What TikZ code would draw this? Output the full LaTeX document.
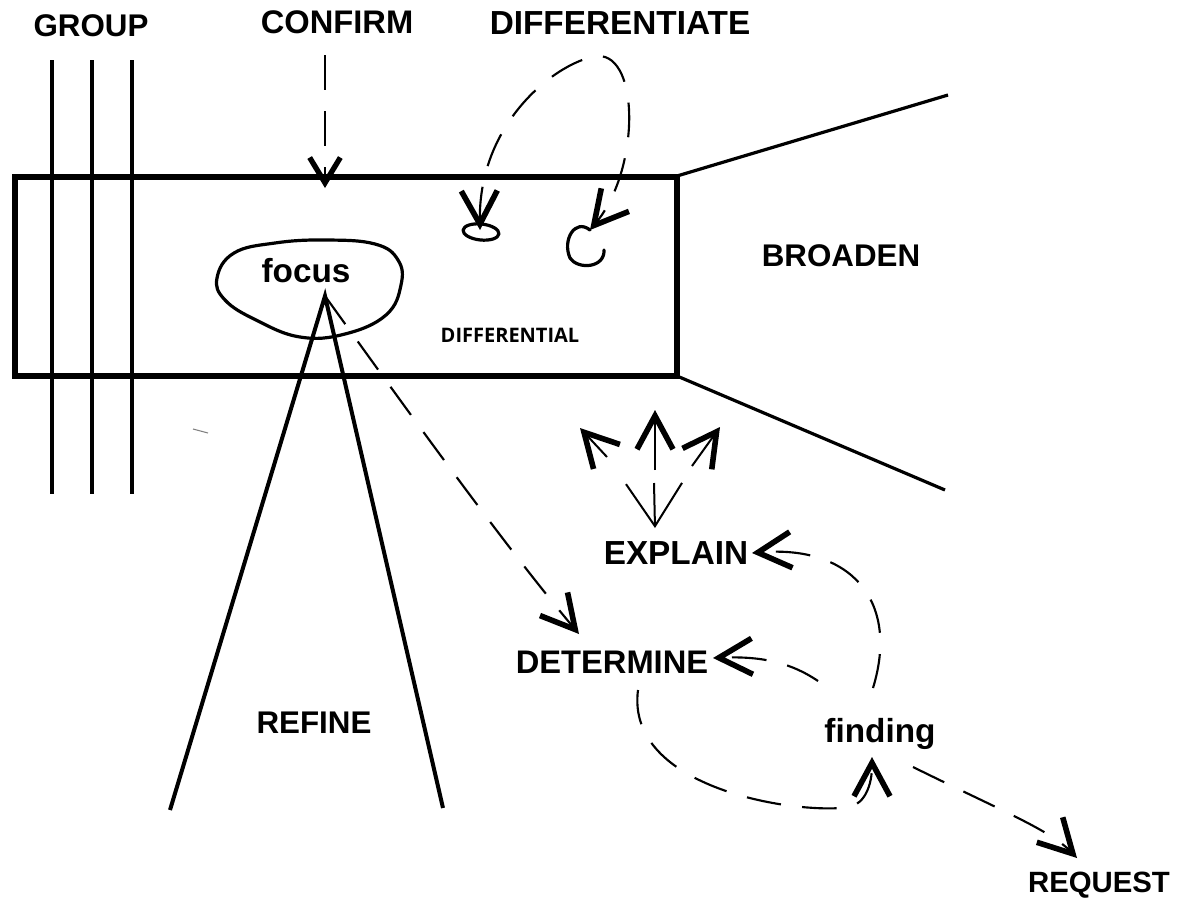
\documentclass[tikz,border=0pt]{standalone}
\usepackage{fontspec}
\usetikzlibrary{arrows.meta}
\newfontfamily\lab{Liberation Sans}
\newfontfamily\osans{Open Sans}
\begin{document}
\begin{tikzpicture}[x=0.75pt,y=-0.75pt,
  txt/.style={inner sep=0pt, font=\lab\bfseries\fontsize{#1}{#1}\selectfont},
  boxline/.style={line width=5pt},
  gline/.style={line width=2.3pt},
  wline/.style={line width=2.4pt},
  refl/.style={line width=3pt},
  sline/.style={line width=2.4pt, line join=round, line cap=round},
  dsh/.style={line width=1.6pt, dash pattern=on 26pt off 16pt},
  thinl/.style={line width=1.5pt},
  hd/.style={-{Straight Barb[length=25pt,width=27pt,line width=4.2pt]}},
  hds/.style={-{Straight Barb[length=19pt,width=23pt,line width=4pt]}},
  hdthin/.style={-{Straight Barb[length=32pt,width=42pt,line width=1.5pt]}},
  hdboth/.style={{Straight Barb[length=25pt,width=27pt,line width=4.2pt]}-{Straight Barb[length=25pt,width=27pt,line width=4.2pt]}}
]
\useasboundingbox (0,0) rectangle (1186,904);

% texts
\node[txt=23.5] (group) at (91,26) {GROUP};
\node[txt=24.5] (confirm) at (337,22) {CONFIRM};
\node[txt=25] (diffte) at (620,23) {DIFFERENTIATE};
\node[txt=23.5] (broaden) at (841,256) {BROADEN};
\node[txt=23.5] (refine) at (314,723) {REFINE};
\node[txt=22] (request) at (1099,885) {REQUEST};
\node[txt=25] (explain) at (676,553) {EXPLAIN};
\node[txt=24.5] (determine) at (612,662) {DETERMINE};
\node[txt=25, anchor=base] (finding) at (880,742) {finding};
\node[txt=25, anchor=base] (focus) at (306,282) {focus};
\node[inner sep=0pt, font=\osans\bfseries\fontsize{15}{15}\selectfont] (differential) at (510,335) {DIFFERENTIAL};

% group lines
\foreach \x in {52,92,132} \draw[gline] (\x,60) -- (\x,494);

% differential box
\coordinate (bx1) at (15,177);
\coordinate (bx2) at (677,376);
\draw[boxline] (bx1) rectangle (bx2);

% broaden lines
\coordinate (tr) at (677,176);
\coordinate (br) at (677,376);
\coordinate (bu) at (948,95);
\coordinate (bd) at (945,490);
\draw[wline] (tr) -- (bu);
\draw[wline] (br) -- (bd);

% focus ellipse
\draw[sline] plot[smooth cycle, tension=0.7] coordinates {(217,278) (234,253) (275,243) (325,240) (375,244) (398,260) (401,285) (386,315) (345,334) (300,337) (256,320) (225,300)};

% refine lines
\coordinate (apex) at (325,296);
\coordinate (rl) at (170,810);
\coordinate (rr) at (443,808);
\draw[refl] (rl) -- (apex) -- (rr);

% stray mark
\draw[line width=0.8pt, gray] (193,429) -- (208,433);

% confirm arrow
\coordinate (c0) at (325,55);
\coordinate (c1) at (325,188);
\draw[dsh, hds] (c0) -- (c1);

% differentiate loop
\coordinate (dl) at (480,230);
\coordinate (dp) at (598,56);
\coordinate (dr) at (590,230);
\draw[dsh, hdboth] (dl) .. controls (478,120) and (560,60) .. (dp) .. controls (640,55) and (640,170) .. (dr);
\draw[sline, rotate around={-6:(481,232)}] (481,232) ellipse (18 and 8);
\draw[sline] (dr) .. controls (575,218) and (562,240) .. (570,258) .. controls (578,270) and (605,268) .. (604,250);

% focus -> determine
\coordinate (fd) at (579,634);
\draw[dsh, hd] (apex) .. controls (400,400) and (500,540) .. (fd);

% explain cluster
\coordinate (eo) at (654,483);
\coordinate (ed) at (655,528);
\draw[thinl, hdthin] (eo) -- (ed);
\coordinate (eu0) at (655,470);
\coordinate (eu1) at (655,410);
\draw[thinl, hd] (eu0) -- (eu1);
\coordinate (el0) at (607,457);
\coordinate (el1) at (580,428);
\draw[thinl, hd] (el0) -- (el1);
\coordinate (er0) at (692,466);
\coordinate (er1) at (720,427);
\draw[thinl, hd] (er0) -- (er1);

% finding -> explain
\coordinate (fe0) at (873,688);
\coordinate (fe1) at (752,553);
\draw[dsh, hd] (fe0) .. controls (900,600) and (850,545) .. (fe1);

% finding -> determine
\coordinate (fdt0) at (818,681);
\coordinate (fdt1) at (713,658);
\draw[dsh, hd] (fdt0) .. controls (790,662) and (760,656) .. (fdt1);

% determine -> finding loop
\coordinate (dt0) at (638,690);
\coordinate (dt1) at (872,757);
\draw[dsh, hd] (dt0) .. controls (625,790) and (800,815) .. (850,807) .. controls (865,803) and (872,785) .. (dt1);

% finding -> request
\coordinate (fr0) at (913,767);
\coordinate (fr1) at (1077,858);
\draw[dsh, hd] (fr0) .. controls (1000,810) and (1050,830) .. (fr1);
\end{tikzpicture}
\end{document}
